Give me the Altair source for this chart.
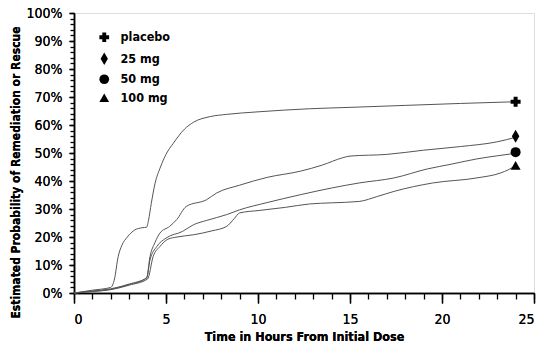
import altair as alt
import pandas as pd

series_names = ["placebo", "25 mg", "50 mg", "100 mg"]
series_shapes = ["cross", "M0,-1.3L0.75,0L0,1.3L-0.75,0Z", "circle", "triangle-up"]

placebo_t = [0, 1, 2, 2.2, 2.4, 2.6, 2.9, 3.3, 3.7, 3.95, 4.05, 4.2, 4.4, 4.7, 5.0, 5.4, 6.0, 6.5, 7.4, 8.3, 10, 12.8, 15, 18, 21, 24]
placebo_p = [0, 1, 2, 5, 13, 17, 20, 22.5, 23.3, 23.5, 26, 32, 39, 45, 49.5, 53.5, 58.5, 61, 63, 63.8, 64.7, 65.8, 66.3, 67, 67.7, 68.3]

mg25_t = [0, 1, 2, 3, 3.95, 4.13, 4.4, 4.67, 5.2, 5.58, 6.1, 7.2, 7.75, 9, 10.5, 12.3, 13.5, 14.6, 15.0, 17, 19, 21, 23, 24]
mg25_p = [0, 0.7, 1.5, 3.2, 5.5, 13, 18, 21.4, 23.8, 26.2, 30.9, 33.3, 35.7, 38.5, 41.3, 43.5, 45.7, 48.3, 48.9, 49.5, 51, 52.3, 54, 55.6]

mg50_t = [0, 1, 2, 3, 3.95, 4.13, 4.5, 5.0, 5.9, 6.5, 7.2, 8.3, 9.0, 10.5, 12.3, 14, 15.5, 17.4, 19.2, 20.5, 21.9, 23, 24]
mg50_p = [0, 0.6, 1.3, 3, 5.3, 11.8, 16.6, 19.6, 22, 24.4, 25.9, 28, 29.7, 32.3, 35.1, 37.5, 39.3, 41.1, 44.3, 46, 47.9, 49, 49.9]

mg100_t = [0, 1, 2, 3, 4.0, 4.3, 4.67, 5.1, 5.6, 6.5, 7.5, 8.3, 8.7, 9.0, 10.1, 11.5, 12.8, 14, 15.5, 16.5, 17.4, 19.5, 21.9, 23.2, 23.6, 24]
mg100_p = [0, 0.5, 1.2, 2.8, 5.0, 13, 16.6, 19.2, 20, 20.8, 22.2, 23.8, 26.5, 28.6, 29.5, 30.6, 31.8, 32.2, 32.7, 34.5, 36.3, 39.3, 41.1, 42.9, 44, 45.5]

end_p = [68.3, 56.0, 50.3, 45.6]
end_t = [24, 24, 24, 24]

x_major = [0, 5, 10, 15, 20, 25]
x_minor = list(range(0, 26))
y_major = [i / 100 for i in range(0, 101, 10)]
y_minor = [i / 100 for i in range(0, 101, 2)]

rows = []
for name, ts, ps in zip(series_names, [placebo_t, mg25_t, mg50_t, mg100_t],
                        [placebo_p, mg25_p, mg50_p, mg100_p]):
    for t, p in zip(ts, ps):
        rows.append({"series": name, "t": t, "p": p / 100})
df = pd.DataFrame(rows)
ends = pd.DataFrame({"series": series_names, "t": end_t, "p": [v / 100 for v in end_p]})

FONT = "DejaVu Sans Condensed, Liberation Sans Narrow, sans-serif"

common = dict(domainColor="black", domainWidth=1.5, tickColor="black", tickWidth=1.3,
              labelFont=FONT, labelFontSize=14, labelColor="black",
              titleFont=FONT, titleFontWeight="bold", titleColor="black",
              grid=False, labelOverlap=False)

xs = alt.Scale(domain=[0, 25], nice=False)
ys = alt.Scale(domain=[0, 1], nice=False)

x_main = alt.X("t:Q", scale=xs, axis=alt.Axis(values=x_major, title="Time in Hours From Initial Dose",
                                               orient="bottom", tickSize=10, labelPadding=9,
                                               titlePadding=4, titleFontSize=12.5, **common))
y_main = alt.Y("p:Q", scale=ys, axis=alt.Axis(values=y_major, format=".0%", orient="left",
                                               title="Estimated Probability of Remediation or Rescue",
                                               tickSize=5, labelPadding=7, titlePadding=3,
                                               titleFontSize=12, titleY=159, **common))

lines = alt.Chart(df).mark_line(color="#555555", strokeWidth=1, interpolate="monotone").encode(
    x=x_main, y=y_main, detail="series:N"
)

points = alt.Chart(ends).mark_point(filled=True, color="black", size=100, opacity=1).encode(
    x=x_main, y=y_main,
    shape=alt.Shape("series:N", scale=alt.Scale(domain=series_names, range=series_shapes),
                    legend=alt.Legend(title=None, orient="none", legendX=24, legendY=18,
                                      symbolFillColor="black", symbolStrokeColor="black",
                                      symbolSize=95, labelFont=FONT, labelFontSize=12.5,
                                      labelFontWeight="bold", labelColor="black",
                                      labelOffset=10, rowPadding=2.5, padding=0))
)

# minor ticks on independent but identical scales
minor = alt.Chart(ends).mark_point(opacity=0).encode(
    x=alt.X("t:Q", scale=xs, axis=alt.Axis(values=x_minor, labels=False, title=None, tickSize=6,
                                           orient="bottom", domain=False, grid=False,
                                           tickColor="black", tickWidth=1.3)),
    y=alt.Y("p:Q", scale=ys, axis=alt.Axis(values=y_minor, labels=False, title=None, tickSize=4,
                                           orient="left", domain=False, grid=False,
                                           tickColor="black", tickWidth=1.3)),
)

chart = alt.layer(lines, points, minor).resolve_scale(x="independent", y="independent").properties(
    width=460, height=280,
    autosize=alt.AutoSizeParams(type="none"),
    padding={"left": 74, "top": 13, "right": 9, "bottom": 58},
).configure_view(stroke=None).configure(background="white")

chart.save("out.html", embed_options={"renderer": "svg", "actions": False})
